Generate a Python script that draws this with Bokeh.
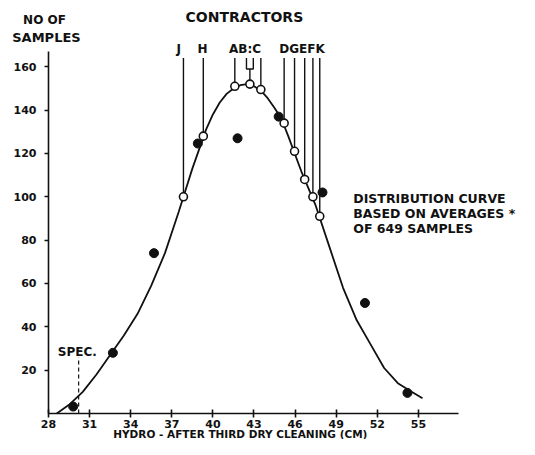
from bokeh.plotting import figure
from bokeh.models import Range1d, FixedTicker, Label, ColumnDataSource
from bokeh.core.properties import value
from bokeh.embed import file_html
from bokeh.resources import INLINE

# ---------------- data ----------------
x_ticks = [28, 31, 34, 37, 40, 43, 46, 49, 52, 55]
y_ticks = [20, 40, 60, 80, 100, 120, 140, 160]

# distribution curve (based on averages of 649 samples)
curve_x = [28.6, 29.5, 30.5, 31.5, 32.5, 33.5, 34.5, 35.5, 36.5, 37.5,
           38.5, 39.5, 40.0, 40.5, 41.0, 41.5, 42.0, 42.5, 43.0, 43.5,
           44.0, 44.5, 45.0, 45.5, 46.5, 47.5, 48.5, 49.5, 50.5, 51.5,
           52.5, 53.5, 54.5, 55.3]
curve_y = [0, 4, 10, 18, 27, 36, 46, 59, 74, 93,
           113, 131, 138, 143.5, 147.5, 150, 151.5, 152, 151, 149,
           145.5, 141, 136, 128, 111, 96, 77, 58, 43, 32,
           21, 14, 10, 7]

# filled dots (averages)
avg_x = [29.8, 32.7, 35.7, 38.9, 41.8, 44.8, 48.0, 51.1, 54.2]
avg_y = [3.2, 28, 74, 124.6, 127, 137, 102, 51, 9.5]

# open circles (contractors)
contractor_names = ["J", "H", "A", "B", "C", "D", "G", "E", "F", "K"]
contractor_x = [37.85, 39.3, 41.6, 42.7, 43.5, 45.2, 45.96, 46.7, 47.3, 47.8]
contractor_y = [100, 128, 151, 152, 149.5, 134, 121, 108, 100, 91]

# contractor label groups
label_text = ["J", "H", "AB:C", "DGEFK"]
label_x = [37.5, 39.25, 42.35, 46.5]

spec_x = 30.2
spec_top = 26

FONT = "DejaVu Sans"
INK = "#111111"
W, H = 519, 439

# the frame fills the whole canvas; the axes are pinned at x=28 and y=0
p = figure(width=W, height=H, output_backend="svg", toolbar_location=None,
           x_range=Range1d(24.496, 62.38), y_range=Range1d(-12.0, 190.59),
           min_border_left=0, min_border_right=0, min_border_top=0,
           min_border_bottom=0)
p.outline_line_color = None
p.grid.visible = False
p.background_fill_color = "white"
p.border_fill_color = "white"

# axes
p.xaxis.ticker = FixedTicker(ticks=x_ticks)
p.yaxis.ticker = FixedTicker(ticks=y_ticks)
p.xaxis.fixed_location = 0
p.yaxis.fixed_location = 28
p.xaxis.bounds = (28, 57.9)
p.yaxis.bounds = (0, 167)
for ax in (p.xaxis, p.yaxis):
    ax.axis_line_width = 1.6
    ax.axis_line_color = INK
    ax.major_tick_line_width = 1.6
    ax.major_tick_line_color = INK
    ax.minor_tick_line_color = None
    ax.major_label_text_font = FONT
    ax.major_label_text_font_style = "bold"
    ax.major_label_text_font_size = "11px"
    ax.major_label_text_color = INK
p.xaxis.major_tick_in = 4
p.xaxis.major_tick_out = 4
p.xaxis.major_label_standoff = 3
p.yaxis.major_tick_in = 0
p.yaxis.major_tick_out = 4
p.yaxis.major_label_standoff = 8

# curve
p.line(curve_x, curve_y, line_color=INK, line_width=1.8)

# spec line
p.segment(x0=[spec_x], y0=[0], x1=[spec_x], y1=[spec_top],
          line_color=INK, line_width=1.2, line_dash="4 3")

# contractor leader lines
line_top = 164
keep = [i for i, n in enumerate(contractor_names) if n != "B"]
seg_src = ColumnDataSource(dict(
    x0=[contractor_x[i] for i in keep],
    y0=[line_top] * len(keep),
    x1=[contractor_x[i] for i in keep],
    y1=[contractor_y[i] for i in keep],
))
p.segment("x0", "y0", "x1", "y1", source=seg_src, line_color=INK, line_width=1.4)

# small bracket for B
bi = contractor_names.index("B")
bx, by = contractor_x[bi], contractor_y[bi]
p.multi_line(xs=[[bx - 0.25, bx - 0.25, bx + 0.25, bx + 0.25], [bx, bx]],
             ys=[[line_top, line_top - 5, line_top - 5, line_top], [line_top - 5, by]],
             line_color=INK, line_width=1.4)

# open circles
p.scatter(contractor_x, contractor_y, marker="circle", size=8,
          fill_color="white", line_color=INK, line_width=1.6)

# filled dots
p.scatter(avg_x, avg_y, marker="circle", size=9, fill_color=INK, line_color=INK)

# contractor labels
p.text(x=label_x, y=[168] * len(label_x), text=label_text,
       text_font=value(FONT), text_font_style="bold", text_font_size="12px",
       text_align="center", text_baseline="middle", text_color=INK)


def add_label(x, y, text, size="11px", align="center", style="bold"):
    p.add_layout(Label(x=x, y=y, text=text, text_font=FONT, text_font_size=size,
                       text_font_style=style, text_align=align,
                       text_baseline="middle", text_color=INK))


add_label(42.3, 183.2, "CONTRACTORS", size="14px")
add_label(27.71, 181.8, "NO OF", size="12px")
add_label(27.85, 173.5, "SAMPLES", size="13px")
add_label(30.1, 28.2, "SPEC.", size="12px")
add_label(50.25, 99.2, "DISTRIBUTION CURVE", size="12.5px", align="left")
add_label(50.25, 92.4, "BASED ON AVERAGES *", size="12.5px", align="left")
add_label(50.25, 85.4, "OF 649 SAMPLES", size="12.5px", align="left")
add_label(42.0, -9.3, "HYDRO - AFTER THIRD DRY CLEANING (CM)", size="10.5px")

open("out.html", "w").write(file_html(p, INLINE))
